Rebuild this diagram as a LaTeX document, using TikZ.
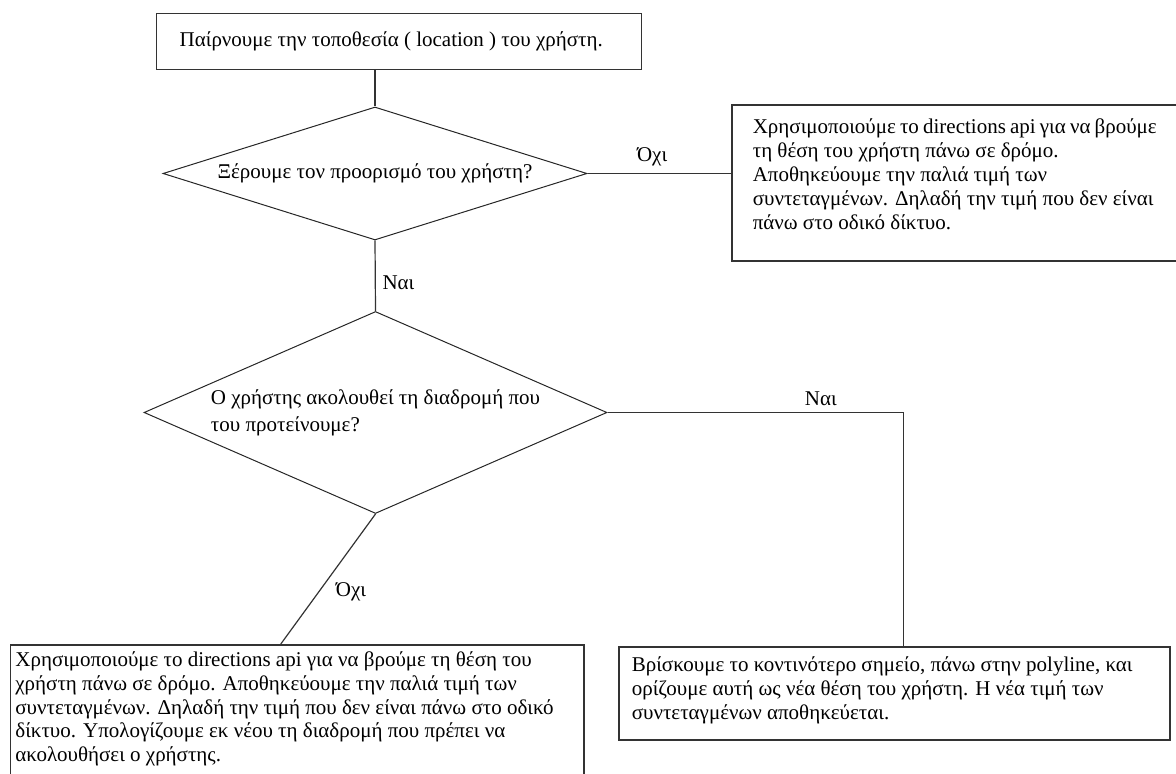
\documentclass[tikz,border=0pt]{standalone}
\usepackage{fontspec}
\setmainfont{Liberation Serif}
\usepackage{tikz}
\usetikzlibrary{shapes,arrows,calc,positioning,shapes.geometric}

\newcommand{\boxtext}[3]{\parbox[t][#2][t]{#1}{\strut #3}}

\tikzset{
  every node/.style={font=\fontsize{10.5}{11.9}\selectfont},
  textbox/.style={
    rectangle,
    draw=black!80, line width=0.8pt,
    anchor=north west,
    inner ysep=3.5pt},
  decision/.style={
    diamond,
    draw=black!85, line width=0.5pt,
    inner sep=0pt,
    align=center},
  line/.style={draw=black!80, line width=0.6pt},
}

\begin{document}
\begin{tikzpicture}[x=1pt, y=1pt]
    \useasboundingbox (0,0) rectangle (588,-387);

    % boxes and decisions
    \node[textbox, inner xsep=11.6pt, inner ysep=8.1pt] (location) at (77.85,-6.35)
        {\boxtext{219.3pt}{11.8pt}{Παίρνουμε την τοποθεσία ( location ) του χρήστη.}};
    \node[decision, minimum width=212pt, minimum height=66.5pt, shape aspect=3.19]
        (knowdest) at (187.5,-86.75) {Ξέρουμε τον προορισμό του χρήστη?};
    \node[textbox, inner xsep=10.5pt, inner ysep=6.2pt] (directions) at (365.5,-52)
        {\boxtext{202pt}{65.6pt}{Χρησιμοποιούμε το directions api για να βρούμε\\
        τη θέση του χρήστη πάνω σε δρόμο.\\
        Αποθηκεύουμε την παλιά τιμή των\\
        συντεταγμένων. Δηλαδή την τιμή που δεν είναι\\
        πάνω στο οδικό δίκτυο.}};
    \node[decision, minimum width=231.5pt, minimum height=101pt, shape aspect=2.29,
        align=left, font=\fontsize{10.5}{13.5}\selectfont]
        (follow) at (187.75,-206.25) {Ο χρήστης ακολουθεί τη διαδρομή που\\ του προτείνουμε?};
    \node[textbox, inner xsep=6.5pt, inner ysep=4.2pt] (nearest) at (309,-323)
        {\boxtext{262.5pt}{38.1pt}{Βρίσκουμε το κοντινότερο σημείο, πάνω στην polyline, και\\
        ορίζουμε αυτή ως νέα θέση του χρήστη. Η νέα τιμή των\\
        συντεταγμένων αποθηκεύεται.}};
    \node[textbox, inner xsep=2.5pt, inner ysep=2.5pt] (reroute) at (4.8,-322)
        {\boxtext{281.7pt}{65pt}{Χρησιμοποιούμε το directions api για να βρούμε τη θέση του\\
        χρήστη πάνω σε δρόμο. Αποθηκεύουμε την παλιά τιμή των\\
        συντεταγμένων. Δηλαδή την τιμή που δεν είναι πάνω στο οδικό\\
        δίκτυο. Υπολογίζουμε εκ νέου τη διαδρομή που πρέπει να\\
        ακολουθήσει ο χρήστης.}};

    % bends
    \coordinate (turn) at ($(nearest.north)+(4.75,0)$);
    \coordinate (rerouteTop) at ($(reroute.north)+(-8.15,0)$);

    % connectors
    \draw[line] (knowdest.north |- location.south) -- (knowdest.north);
    \draw[line] (knowdest.east) -- node[above, pos=0.45] (noA) {Όχι}
        (knowdest.east -| directions.west);
    \draw[line] (knowdest.south) -- node[right, pos=0.6] (yesA) {Ναι} (follow.north);
    \draw[line] (follow.east) -- node[above, pos=0.72] (yesB) {Ναι}
        (follow.east -| turn) -- (turn);
    \draw[line] (follow.south) -- node[right=5pt, pos=0.6] (noB) {Όχι} (rerouteTop);
\end{tikzpicture}
\end{document}
